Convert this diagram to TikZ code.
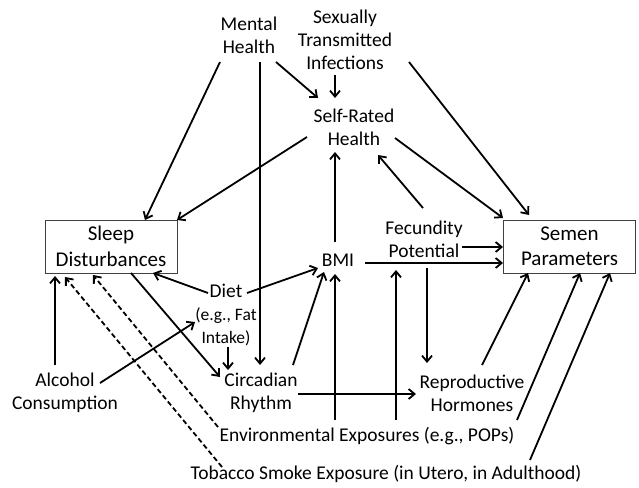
\documentclass[tikz,border=0pt]{standalone}
\usepackage{fontspec}
\setmainfont{Carlito}
\usetikzlibrary{arrows.meta,calc}
\newcommand{\dietfont}{\fontsize{17.5}{21}\selectfont}

\begin{document}
\begin{tikzpicture}[x=1pt,y=-1pt]
% all sizes in pixels of the original, y runs downward
\tikzset{every node/.style={align=center, inner sep=0pt, font=\fontsize{19.5}{23}\selectfont}} % plain labels
\tikzset{factor/.style={draw=black!75, line width=0.9pt, minimum width=132pt, minimum height=53pt, font=\fontsize{21}{25.5}\selectfont}}
\tikzset{arr/.style={line width=1.8pt, -{Straight Barb[length=6pt,width=10pt]}}}
\tikzset{dasharr/.style={arr, dash pattern=on 5pt off 3pt}}
\useasboundingbox (0,0) rectangle (639,487);

\node (mental) at (249,35) {Mental\\Health};
\node (sti) at (345,40) {Sexually\\Transmitted\\Infections};
\node (selfrated) at (354,127) {Self-Rated\\Health};
\node[factor] (sleep) at (111,246.5) {Sleep\\Disturbances};
\node[factor] (semen) at (569.5,246.5) {Semen\\Parameters};
\node (bmi) at (338,260) {BMI};
\node (fecundity) at (424,239) {Fecundity\\Potential};
\node (diet) at (226,315) {Diet\\\dietfont(e.g., Fat\\\dietfont Intake)};
\node (alcohol) at (65,393) {Alcohol\\Consumption};
\node (circadian) at (261,393) {Circadian\\Rhythm};
\node (hormones) at (472,393) {Reproductive\\Hormones};
\node (envexp) at (367,436) {Environmental Exposures (e.g., POPs)};
\node (tobacco) at (386,474) {Tobacco Smoke Exposure (in Utero, in Adulthood)};

% top part
\draw[arr] ($(mental)+(-29,27)$) -- ($(sleep)+(34,-26.5)$);
\draw[arr] ($(mental)+(11,27)$) -- ($(circadian)+(-1,-28)$);
\draw[arr] ($(mental)+(27,27)$) -- ($(selfrated)+(-36,-29)$);
\draw[arr] ($(sti)+(-10,35)$) -- ($(selfrated)+(-19,-29)$);
\draw[arr] ($(sti)+(64,22)$) -- ($(semen)+(-40.5,-31.5)$);
\draw[arr] ($(selfrated)+(41,11)$) -- ($(semen)+(-66.5,-28.5)$);
\draw[arr] ($(selfrated)+(-47,10)$) -- ($(sleep)+(66,-26.5)$);
\draw[arr] ($(bmi)+(-3,-18)$) -- ($(selfrated)+(-19,25)$);
\draw[arr] ($(fecundity)+(-1,-31)$) -- ($(selfrated)+(24,28)$);
\draw[arr] ($(fecundity)+(38,8)$) -- ($(semen)+(-66.5,0.5)$);
\draw[arr] ($(bmi)+(27,3)$) -- ($(semen)+(-66.5,16.5)$);
\draw[arr] ($(fecundity)+(3,29)$) -- ($(hormones)+(-45,-30)$);

% middle part
\draw[arr] ($(diet)+(-18,-22)$) -- ($(sleep)+(42,26.5)$);
\draw[arr] ($(diet)+(21,-22)$) -- ($(bmi)+(-20,8)$);
\draw[arr] ($(diet)+(2,32)$) -- ($(circadian)+(-33,-23)$);
\draw[arr] ($(sleep)+(20,26.5)$) -- ($(circadian)+(-41,-16)$);
\draw[arr] ($(alcohol)+(-10,-28)$) -- ($(sleep)+(-56,29.5)$);
\draw[arr] ($(alcohol)+(35,-10)$) -- ($(diet)+(-31,7)$);
\draw[arr] ($(circadian)+(32,-28)$) -- ($(bmi)+(-14,12)$);
\draw[arr] ($(circadian)+(37,1)$) -- ($(hormones)+(-56,1)$);

% exposures
\draw[arr] ($(envexp)+(-32,-16)$) -- ($(bmi)+(-3,14)$);
\draw[arr] ($(envexp)+(29,-16)$) -- ($(fecundity)+(-28,31)$);
\draw[dasharr] ($(envexp)+(-149,-9)$) -- ($(sleep)+(-18,28.5)$);
\draw[dasharr] ($(tobacco)+(-164,-7)$) -- ($(sleep)+(-46,30.5)$);
\draw[arr] ($(hormones)+(10,-28)$) -- ($(semen)+(-41.5,26.5)$);
\draw[arr] ($(envexp)+(150,-16)$) -- ($(semen)+(10.5,26.5)$);
\draw[arr] ($(tobacco)+(144,-14)$) -- ($(semen)+(40.5,26.5)$);

\end{tikzpicture}
\end{document}
